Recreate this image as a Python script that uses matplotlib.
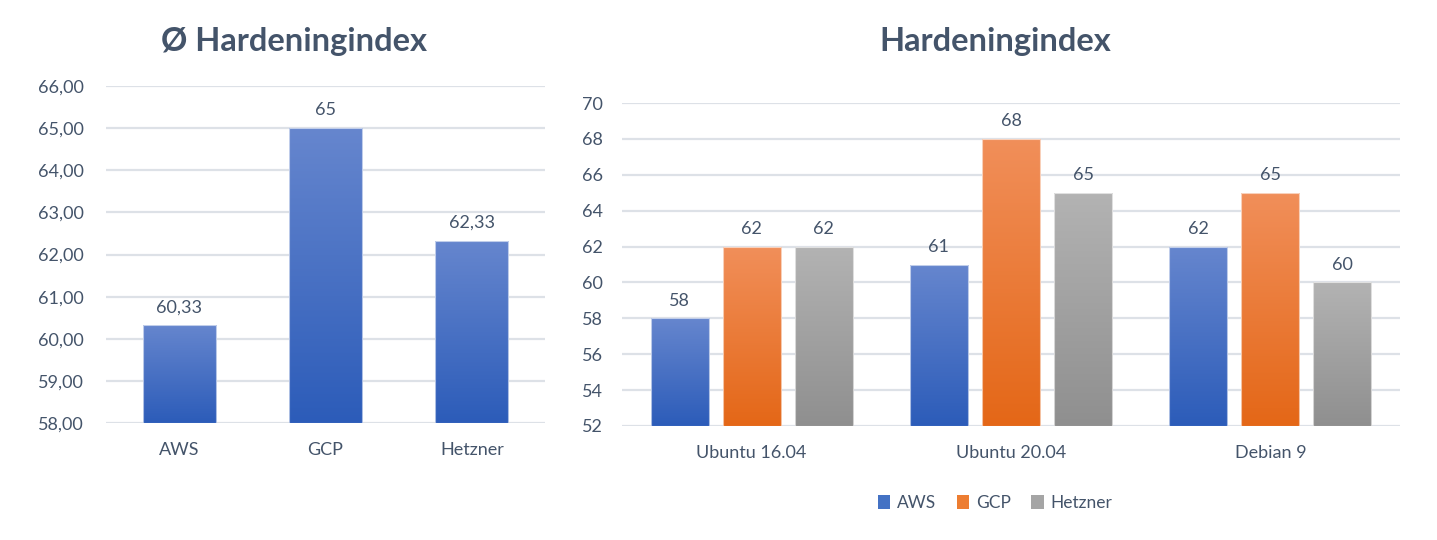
import matplotlib
matplotlib.use("Agg")
import matplotlib.pyplot as plt
import numpy as np
from matplotlib.colors import LinearSegmentedColormap
from matplotlib.patches import Patch

plt.rcParams['font.family'] = ['Lato', 'DejaVu Sans']

# ---- data ----
avg_categories = ["AWS", "GCP", "Hetzner"]
avg_values = [60.33, 65.0, 62.33]
avg_labels = ["60,33", "65", "62,33"]
avg_yticks = [58, 59, 60, 61, 62, 63, 64, 65, 66]

os_categories = ["Ubuntu 16.04", "Ubuntu 20.04", "Debian 9"]
providers = ["AWS", "GCP", "Hetzner"]
aws_values = [58, 61, 62]
gcp_values = [62, 68, 65]
hetzner_values = [62, 65, 60]
os_yticks = [52, 54, 56, 58, 60, 62, 64, 66, 68, 70]

TEXT = '#44546A'
GRID = '#DDE1E7'
grads = {
    "AWS": ('#6686CE', '#2C5CB9'),
    "GCP": ('#F18F5A', '#E46717'),
    "Hetzner": ('#B3B3B3', '#8F8F8F'),
}
solid = {"AWS": '#4472C4', "GCP": '#ED7D31', "Hetzner": '#A5A5A5'}

fig = plt.figure(figsize=(14.37, 5.4), dpi=100)
fig.patch.set_facecolor('white')


def gradient_bars(ax, bars, top_c, bot_c):
    cmap = LinearSegmentedColormap.from_list('g', [bot_c, top_c])
    grad = np.linspace(0, 1, 256).reshape(-1, 1)
    for b in bars:
        x0, y0 = b.get_x(), b.get_y()
        w, h = b.get_width(), b.get_height()
        im = ax.imshow(grad, extent=[x0, x0 + w, y0, y0 + h], origin='lower',
                       aspect='auto', cmap=cmap, zorder=2)
        im.set_clip_path(b)
        b.set_facecolor('none')
        b.set_edgecolor((1, 1, 1, 0.6))
        b.set_linewidth(0.8)
        b.set_zorder(3)


def style_axes(ax, yticks, fmt, pad):
    for s in ax.spines.values():
        s.set_visible(False)
    ax.set_yticks(yticks)
    ax.set_yticklabels([fmt(v) for v in yticks])
    ax.yaxis.grid(True, color=GRID, linewidth=1.6, zorder=0)
    ax.set_axisbelow(True)
    ax.tick_params(axis='both', length=0, colors=TEXT, labelsize=13)
    ax.tick_params(axis='y', pad=pad)
    ax.tick_params(axis='x', pad=14)


# ---- left chart ----
axL = fig.add_axes([106 / 1437, 1 - 423 / 540, 439 / 1437, 337 / 540])
xL = np.arange(len(avg_categories))
barsL = axL.bar(xL, [v - avg_yticks[0] for v in avg_values], bottom=avg_yticks[0], width=0.5)
gradient_bars(axL, barsL, *grads["AWS"])
for x, v, lab in zip(xL, avg_values, avg_labels):
    axL.annotate(lab, (x, v), xytext=(0, 7), textcoords='offset points',
                 ha='center', va='bottom', fontsize=13, color=TEXT)
axL.set_xlim(-0.5, len(avg_categories) - 0.5)
axL.set_ylim(avg_yticks[0], avg_yticks[-1])
axL.set_xticks(xL)
axL.set_xticklabels(avg_categories)
style_axes(axL, avg_yticks, lambda v: f"{v:.2f}".replace('.', ','), 16)
axL.set_ylim(avg_yticks[0], avg_yticks[-1])
fig.text(294 / 1437, 1 - 42 / 540, "Ø Hardeningindex", ha='center', va='center',
         fontsize=23.5, fontweight='bold', color=TEXT)

# ---- right chart ----
axR = fig.add_axes([622 / 1437, 1 - 426 / 540, 778 / 1437, 323 / 540])
xR = np.arange(len(os_categories))
series = [aws_values, gcp_values, hetzner_values]
bw = 0.224
pitch = 0.278
for i, (name, vals) in enumerate(zip(providers, series)):
    pos = xR + (i - 1) * pitch
    bars = axR.bar(pos, [v - os_yticks[0] for v in vals], bottom=os_yticks[0], width=bw)
    gradient_bars(axR, bars, *grads[name])
    for x, v in zip(pos, vals):
        axR.annotate(str(v), (x, v), xytext=(0, 7), textcoords='offset points',
                     ha='center', va='bottom', fontsize=13, color=TEXT)
axR.set_xlim(-0.5, len(os_categories) - 0.5)
axR.set_xticks(xR)
axR.set_xticklabels(os_categories)
style_axes(axR, os_yticks, lambda v: str(v), 14)
axR.set_ylim(os_yticks[0], os_yticks[-1])
fig.text(995 / 1437, 1 - 42 / 540, "Hardeningindex", ha='center', va='center',
         fontsize=23.5, fontweight='bold', color=TEXT)

handles = [Patch(facecolor=solid[p], edgecolor='none', label=p) for p in providers]
leg = fig.legend(handles=handles, loc='center', bbox_to_anchor=(995 / 1437, 1 - 503 / 540),
                 ncol=3, frameon=False, fontsize=12.5, handlelength=0.7, handleheight=0.9,
                 handletextpad=0.4, columnspacing=1.2)
for t in leg.get_texts():
    t.set_color(TEXT)

fig.savefig('out.png', dpi=100, facecolor='white')
